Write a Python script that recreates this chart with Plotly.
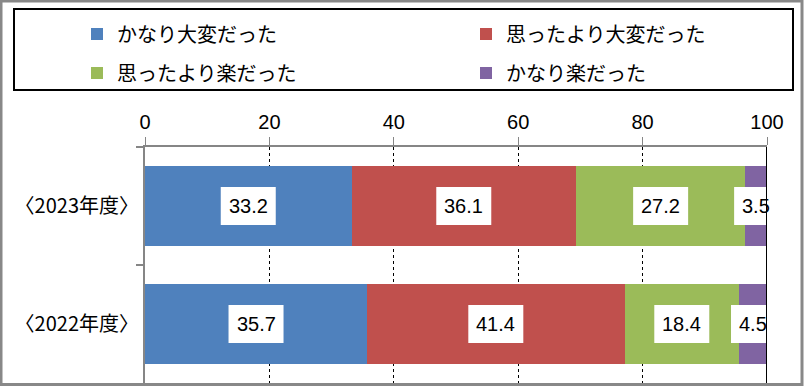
import numpy as np
import plotly.graph_objects as go

categories = ['〈2023年度〉', '〈2022年度〉']
series_names = ['かなり大変だった', '思ったより大変だった', '思ったより楽だった', 'かなり楽だった']
kanari_taihen = [33.2, 35.7]
omotta_taihen = [36.1, 41.4]
omotta_raku = [27.2, 18.4]
kanari_raku = [3.5, 4.5]
x_ticks = [0, 20, 40, 60, 80, 100]

series_values = [kanari_taihen, omotta_taihen, omotta_raku, kanari_raku]
colors = ['#4F81BD', '#C0504D', '#9BBB59', '#8064A2']
legend_ids = ['legend', 'legend2', 'legend3', 'legend4']
# legend entry positions (pixels: legend-left x, text-centre y)
legend_pos = [(77, 34), (466, 34), (77, 73), (466, 73)]

W, H = 805, 386
ML, MR, MT, MB = 145, 38, 147, 3
PW, PH = W - ML - MR, H - MT - MB

def px_to_paper_x(px):
    return (px - ML) / PW

def py_to_paper_y(py):
    return (H - MB - py) / PH

NUM_FONT = 'Liberation Sans, Arial, Noto Sans CJK JP'
JP_FONT = 'Noto Sans CJK JP, Liberation Sans'

fig = go.Figure()
for name, vals, col, lg in zip(series_names, series_values, colors, legend_ids):
    fig.add_trace(go.Bar(
        y=categories, x=vals, name=name, orientation='h',
        marker=dict(color=col, line=dict(width=0)),
        legend=lg, hoverinfo='skip'))

shapes = []
annotations = []
cum = np.zeros(len(categories))
for vals in series_values:
    v = np.array(vals, dtype=float)
    centers = cum + v / 2
    for i, (c, val) in enumerate(zip(centers, v)):
        txt = f'{val:.1f}'
        hw = 27.5 if len(txt) >= 4 else 22
        shapes.append(dict(type='rect', xref='x', yref='y',
                           xsizemode='pixel', ysizemode='pixel',
                           xanchor=float(c), yanchor=i,
                           x0=-hw, x1=hw, y0=-19, y1=19,
                           fillcolor='white', line=dict(width=0), layer='above'))
        annotations.append(dict(x=float(c), y=i, xref='x', yref='y', text=txt,
                                showarrow=False,
                                font=dict(family=NUM_FONT, size=20, color='black')))
    cum = cum + v

# solid line at 100
shapes.append(dict(type='line', xref='x', yref='paper', x0=100, x1=100, y0=0, y1=1,
                   line=dict(color='black', width=2), layer='above'))
# legend box
shapes.append(dict(type='rect', xref='paper', yref='paper',
                   x0=px_to_paper_x(14), x1=px_to_paper_x(793),
                   y0=py_to_paper_y(90), y1=py_to_paper_y(9),
                   line=dict(color='black', width=2), fillcolor='rgba(0,0,0,0)', layer='above'))
# outer border
shapes.append(dict(type='rect', xref='paper', yref='paper',
                   x0=px_to_paper_x(1), x1=px_to_paper_x(802),
                   y0=py_to_paper_y(384.5), y1=py_to_paper_y(1),
                   line=dict(color='#888888', width=3), fillcolor='rgba(0,0,0,0)', layer='above'))

legend_common = dict(orientation='h', xanchor='left', yanchor='middle',
                     font=dict(family=JP_FONT, size=20, color='black'),
                     bgcolor='rgba(0,0,0,0)', borderwidth=0, traceorder='normal',
                     itemclick=False, itemdoubleclick=False)
legends = {}
for lg, (lx, ly) in zip(legend_ids, legend_pos):
    legends[lg] = dict(x=px_to_paper_x(lx), y=py_to_paper_y(ly), **legend_common)

fig.update_layout(
    width=W, height=H,
    margin=dict(l=ML, r=MR, t=MT, b=MB, pad=0),
    paper_bgcolor='white', plot_bgcolor='white',
    barmode='stack', bargap=0.32,
    showlegend=True,
    xaxis=dict(side='top', range=[0, 100], tickvals=x_ticks, ticktext=[str(t) for t in x_ticks],
               ticks='outside', ticklen=8, tickcolor='#868686', tickwidth=1,
               showline=True, linecolor='#868686', linewidth=2,
               showgrid=True, gridcolor='black', griddash='dot', gridwidth=1,
               zeroline=False,
               tickfont=dict(family=NUM_FONT, size=20, color='black')),
    yaxis=dict(categoryorder='array', categoryarray=categories, autorange='reversed',
               ticks='outside', ticklen=7, tickcolor='#868686', tickwidth=2, tickson='boundaries',
               showline=True, linecolor='#868686', linewidth=2,
               showgrid=False, zeroline=False,
               tickfont=dict(family=JP_FONT, size=20, color='black')),
    shapes=shapes, annotations=annotations,
    **legends,
)

fig.write_html('out.html', config={'displayModeBar': False, 'staticPlot': True},
               post_script="document.body.style.margin='0';document.body.style.padding='0';")
